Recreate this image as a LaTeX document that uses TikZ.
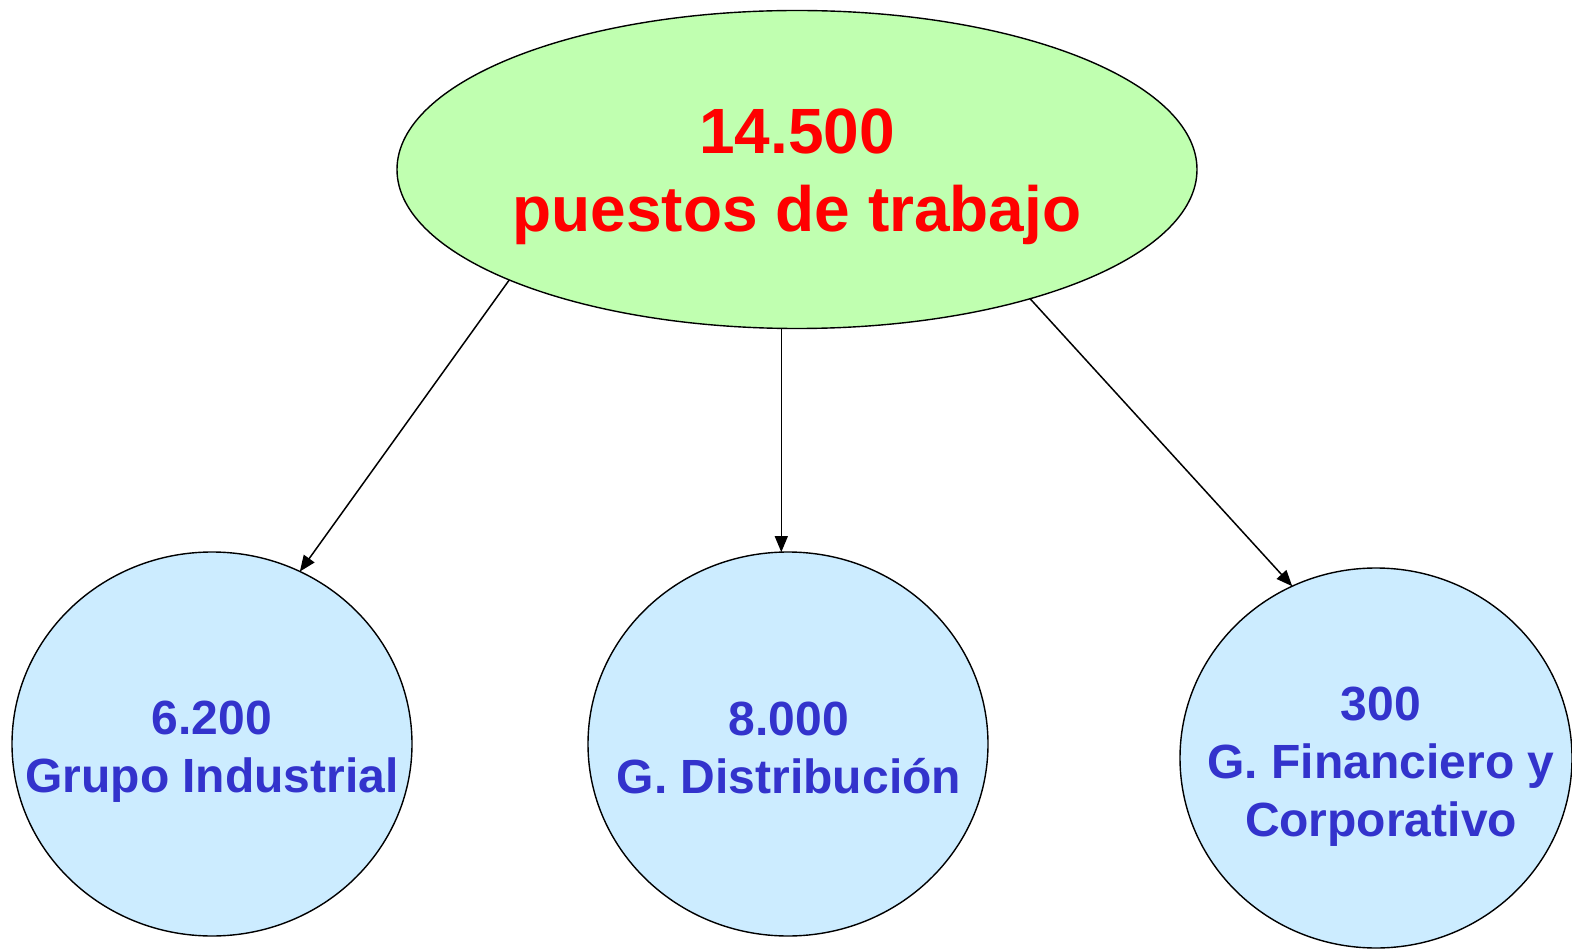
\documentclass[tikz,border=0pt]{standalone}
\usepackage{fontspec}
\setmainfont{Liberation Sans}
\usetikzlibrary{shapes.geometric,arrows.meta}
\definecolor{topfill}{RGB}{192,255,176}
\definecolor{subfill}{RGB}{204,236,255}
\definecolor{bluetext}{RGB}{51,51,204}
\definecolor{redtext}{RGB}{255,0,0}
\tikzset{
  shapebox/.style={ellipse,draw=black,line width=1.4pt,inner sep=0pt,outer sep=0pt},
  topshape/.style={shapebox,fill=topfill,minimum width=800pt,minimum height=318pt},
  subshape/.style={shapebox,fill=subfill},
  redlabel/.style={text=redtext,font=\fontsize{64}{78}\selectfont\bfseries,align=center,inner sep=0pt},
  bluelabel/.style={text=bluetext,font=\fontsize{48}{58}\selectfont\bfseries,align=center,inner sep=0pt},
  conn/.style={draw=black,line width=1.5pt,-{Triangle[length=16pt,width=13pt]}}
}
\begin{document}
\begin{tikzpicture}[x=1pt,y=-1pt]
\useasboundingbox[fill=white] (0,0) rectangle (1572,949);
\node[topshape] (top) at (797,169.5) {};
\node[subshape,minimum width=400pt,minimum height=384pt] (left) at (212,744) {};
\node[subshape,minimum width=400pt,minimum height=384pt] (mid) at (788,744) {};
\node[subshape,minimum width=392pt,minimum height=380pt] (right) at (1376,758) {};
\node[redlabel] (toptext) at (797,177) {14.500\\puestos de trabajo};
\node[bluelabel] (lefttext) at (212,752) {6.200\\Grupo Industrial};
\node[bluelabel] (midtext) at (789,748) {8.000\\G. Distribución};
\node[bluelabel] (righttext) at (1381,766.5) {300\\G. Financiero y\\Corporativo};
\draw[conn] (top.201.1) -- (left.63.3);
\draw[conn] (mid.92.4 |- top.263.5) -- (mid.92.4);
\draw[conn] (top.331.8) -- (right.116.4);
\end{tikzpicture}
\end{document}
